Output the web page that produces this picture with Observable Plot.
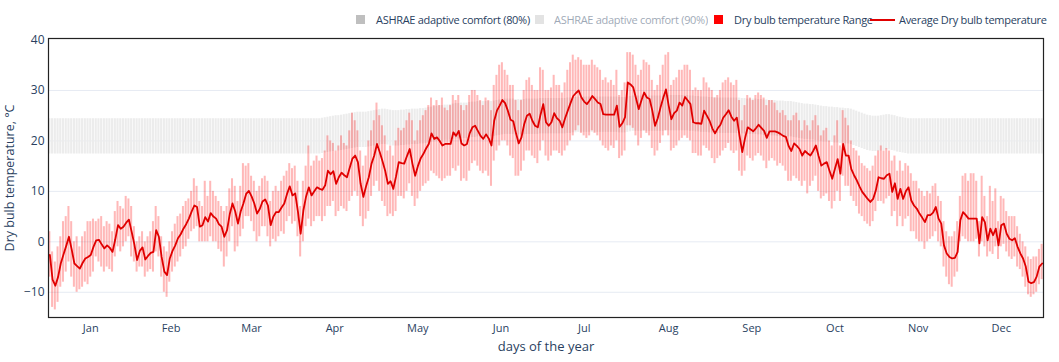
<!DOCTYPE html>
<html><head><meta charset="utf-8">
<script src="https://cdn.jsdelivr.net/npm/d3@7"></script>
<script src="https://cdn.jsdelivr.net/npm/@observablehq/plot@0.6"></script>
<style>
body{margin:0;background:#fff;font-family:"Open Sans",sans-serif;}
#legend{position:relative;height:30px;width:1059px;overflow:hidden;font-size:11px;letter-spacing:-0.3px;color:#2a3f5f;}
#legend .sq{position:absolute;top:15px;width:9px;height:9px;}
#legend .lt{position:absolute;top:12px;line-height:15px;white-space:nowrap;}
#legend .ln{position:absolute;top:19px;width:25px;height:2px;background:#e00000;}
#chart svg{display:block;}
</style></head>
<body>
<div id="legend">
<span class="sq" style="left:356px;background:#bfbfbf"></span><span class="lt" style="left:376px">ASHRAE adaptive comfort (80%)</span>
<span class="sq" style="left:535px;background:#e3e3e3"></span><span class="lt" style="left:554px;opacity:0.45">ASHRAE adaptive comfort (90%)</span>
<span class="sq" style="left:714px;background:#ff0000"></span><span class="lt" style="left:734px">Dry bulb temperature Range</span>
<span class="ln" style="left:870px"></span><span class="lt" style="left:899px">Average Dry bulb temperature</span>
</div>
<div id="chart"></div>
<script>
const monthNames = ["Jan","Feb","Mar","Apr","May","Jun","Jul","Aug","Sep","Oct","Nov","Dec"];
const monthDays = [31,28,31,30,31,30,31,31,30,31,30,31];
const yTicks = [-10,0,10,20,30,40];

const avgTemp = [
-2.6,-7.5,-8.7,-7.0,-4.3,-2.5,-0.8,1.0,-1.5,-4.3,-4.8,-5.3,-4.2,-3.3,-3.0,-2.6,-1.0,0.3,0.4,-0.5,-1.3,-0.7,-1.2,-2.0,0.5,3.3,2.6,3.0,3.8,4.4,2.0,
-0.5,-3.6,-1.8,-1.1,-3.5,-2.8,-2.2,-2.0,2.3,1.0,-3.0,-5.9,-6.6,-3.3,-1.8,-0.7,0.7,1.5,2.6,3.5,4.6,6.0,7.2,6.9,3.0,3.3,4.9,4.0,
5.7,5.0,4.6,3.5,3.0,1.0,2.3,5.5,7.6,6.0,3.6,6.0,7.6,9.5,10.1,9.0,7.6,5.6,6.5,8.0,8.4,7.2,3.3,5.0,5.9,5.9,6.8,7.6,9.5,11.0,9.2,
9.6,6.0,1.6,6.2,9.0,10.8,9.2,10.0,10.8,10.5,10.3,11.2,14.1,13.4,14.0,11.5,12.8,13.7,13.2,12.8,14.7,16.5,17.1,15.8,11.5,8.9,11.0,12.8,15.5,17.1,
19.4,17.8,16.0,14.1,11.5,12.0,10.5,13.0,15.8,15.6,15.5,17.0,18.4,15.5,13.1,15.0,16.5,17.4,18.5,19.4,21.5,20.4,20.7,20.0,19.1,19.4,19.4,19.4,21.7,21.0,22.0,
19.5,19.1,19.4,21.5,22.7,23.0,22.0,21.0,20.4,21.3,20.5,19.1,24.0,26.0,27.0,28.1,27.5,26.0,24.2,23.9,21.5,19.5,20.7,23.3,25.0,25.4,24.0,23.0,22.7,25.2,
27.3,23.7,23.0,23.7,25.5,24.5,24.0,22.7,24.5,26.0,27.5,28.9,29.5,30.0,28.6,27.8,27.3,28.0,28.9,28.3,27.6,27.3,25.3,25.2,25.2,25.2,25.2,27.0,22.8,23.5,24.7,
31.6,31.2,30.6,28.5,26.3,28.0,29.6,28.6,28.3,26.0,23.0,24.5,26.6,28.5,30.2,27.0,24.3,25.5,26.0,27.6,27.0,28.7,28.0,27.3,23.7,23.5,23.5,23.4,26.0,25.0,24.0,
22.5,21.5,22.5,23.2,24.6,25.3,26.1,24.8,24.0,24.6,21.0,17.8,20.5,22.7,22.3,21.9,22.5,23.2,22.6,22.0,20.6,21.9,21.9,21.9,21.7,21.4,21.0,20.8,19.0,18.0,
19.5,19.0,18.4,17.1,18.0,17.5,17.1,18.0,19.1,17.0,15.1,15.5,15.8,14.1,12.5,14.5,16.4,13.5,19.4,17.1,17.1,14.4,13.2,12.2,11.0,9.9,9.2,8.5,7.9,8.5,10.2,
12.8,12.6,12.5,13.2,13.5,9.9,11.6,8.5,10.5,8.5,10.0,10.8,8.2,7.2,6.6,5.6,4.8,3.9,5.3,5.3,5.8,6.9,4.6,3.6,-0.7,-2.3,-3.0,-3.3,-3.2,-2.0,
4.3,5.9,5.3,4.6,4.6,4.6,4.6,-0.3,4.9,3.9,0.3,2.6,1.3,2.6,-0.7,3.3,3.6,1.6,0.6,0.3,0.7,-1.0,-2.3,-3.3,-4.9,-7.9,-8.2,-8.0,-6.9,-4.9,-4.3
];

const rangeHi = [
2,-2,-4,-1,1,4,5,7,4,0,1,-1,1,2,4,4,4.5,4,4.5,5,3,4,3.5,2,6,8,7,6.5,9,8.5,7,
3,0,1,2,0,1,2,4,7,5,1,-1,-2,0,2,3.5,5,5.5,7,8,8.5,10,12.5,11,8,7,12,9,
12,10,9,8,7,6,7,10.5,12.5,11,8,11,15.5,15,15.5,13,12,10,11,12.5,13,12,8,10,11,10,12,13,14,15.5,14.5,
15,12,7,12,15,19,15,16,17,16,16.5,18,21,20,19.5,18,19,21,19.5,19,22,25.5,24,22,18,15,17,20,22,24,
27.5,25,23,21,18,19,17,20,22.5,22,22.5,24,25.5,24,20,22,24,25,26,27,28.5,27,28,27,28.5,26.5,26,27,29,28,29,
27,26,27,29,30,30,29,28,27,28.5,28,26,31,33,35,35.5,34,33,31,31,28,26,28,30,32,32.5,31,30,30,34.5,
34,30,30,30.5,33,31,31,29.5,31.5,34,35.5,37,36,36.5,36,35,35,35,36,35,34.5,34,32,32.5,31.5,32,31,34,29,30,31.5,
37.5,37.5,37,35,33,34,36,35.5,35,32,30,31,33,35,37,37.5,31,32,32.5,34,34,35,35,34,30,30.5,30,30,32.5,31.5,30.5,
30,28.5,29,30,31.5,32,32.5,31.5,31,32,28,24,27,29,28.5,28,29,29.5,29,28.5,27,28,28,27.5,26,25.5,26,25,24,24,
25,25.5,24,22,24,23,22,24,25,23,21,22,22.5,20,19,21,24,19,26,24.5,23,20,18.5,18,17,15.5,15,14.5,14,15,17,
18,19,18,18.5,18,16,17,14,16,14,15.5,15,13.5,12,12,10.5,10,9,10,9.5,11,11.5,9,8,4,2,1,1,2,4,
9,13,13.5,12,13.5,13.5,12,4,13,9,5,11,8,10.5,4,9,8.5,6,5,5,5,3,1.5,0,-1,-3,-3.5,-3,-3,-1.5,-0.5
];

const rangeLo = [
-7,-13,-13.5,-12,-9,-8,-6,-4,-7,-9,-10,-9.5,-9,-8,-8.5,-7,-6,-3,-4,-5,-6,-5,-5.5,-6,-3,-1,-2,-1,0,1,-3,
-4,-6,-5,-5,-7,-6,-5.5,-6,-2,-3,-7,-10,-11,-8,-6,-5,-4,-3,-1.5,-1,0.5,2,2.5,3,0,0,0,0,
1,0,0,-1.5,-2,-5,-3,0,3,-2,-1,1,2.5,5,5,4,2,0,1,3,3,1,-1,0.5,0,1,2,1.5,4,5,3.5,
4,1,-3,0,3,4.5,3,4,5,5,4,5,7,7,8,5,6,7,6.5,6,8,9,10,9,5,3,4.5,6,9,11,
12,10,8,7,5,5.5,5,6,9,9,8.5,10,11.5,9,7,8.5,10,11,11.5,12,14,13.5,13,12.5,12,12.5,13,13,14.5,14,15,
12,12.5,12,14,15.5,16,15,14,13.5,14,13,11,16,18,19,20,20,19,17,16.5,13,13,14,16,18,18,17,16.5,15.5,18,
20,17,16,17,18,18,17.5,17,18,19,20,21,22,23,21.5,21,20.5,21,22,21.5,21,20,19,18.5,18,19,18.5,20,16.5,17,18,
23,23,22.5,21,19,20.5,22,21.5,21,18.5,17,18,19.5,21,22,21,18,18.5,19,20,20.5,21,20.5,20,17.5,17.5,17,17,19,18.5,18,
16.5,15.5,16.5,17,18,18.5,19.5,18,17.5,18,14,13,14,17,16.5,16,17,17.5,17,16,14.5,16,16.5,16,15,15.5,15,14,12,12,
13,12.5,12,11,12,9.5,11,12,13,10,8.5,9,9.5,8,6.5,8,10,8,13,11,11,9,8,7,5.5,5,4,3.5,3,4,6,
8,8,7.5,8.5,9,5,6,3,5,3,4.5,5,2,2,0.5,0,0,-1.5,0,0.5,1,2,0,-1,-5,-7,-8.5,-9,-7,-6,
0,1,0.5,0,0,0,0.5,-3,0,-1,-3,-2,-2.5,-1,-3.5,-1,-0.5,-2,-3,-3.5,-3,-5,-5.5,-7,-9,-10.5,-11,-10.5,-10,-8.5,-7.5
];

const comfortHi = [
24.4,24.4,24.4,24.4,24.4,24.4,24.4,24.4,24.4,24.4,
24.4,24.4,24.4,24.4,24.4,24.4,24.4,24.4,24.4,24.4,
24.4,24.4,24.4,24.4,24.4,24.4,24.4,24.4,24.4,24.4,
24.4,24.4,24.4,24.4,24.4,24.4,24.4,24.4,24.4,24.4,
24.4,24.4,24.4,24.4,24.4,24.4,24.4,24.4,24.4,24.4,
24.4,24.4,24.4,24.4,24.4,24.4,24.4,24.4,24.4,24.4,
24.4,24.4,24.4,24.4,24.4,24.4,24.4,24.4,24.4,24.4,
24.4,24.4,24.4,24.4,24.4,24.4,24.4,24.4,24.4,24.4,
24.4,24.4,24.4,24.4,24.4,24.4,24.4,24.4,24.4,24.4,
24.4,24.4,24.4,24.4,24.4,24.4,24.4,24.4,24.4,24.4,
24.5,24.6,24.7,24.8,24.9,25.0,25.0,25.1,25.2,25.3,
25.4,25.5,25.6,25.7,25.7,25.7,25.7,25.8,25.9,26.0,
26.1,26.2,26.3,26.3,26.2,26.1,26.0,26.0,26.0,26.1,
26.1,26.2,26.2,26.3,26.3,26.3,26.4,26.4,26.5,26.6,
26.7,26.8,26.9,27.0,27.0,27.1,27.1,27.2,27.3,27.4,
27.4,27.5,27.5,27.5,27.6,27.7,27.7,27.8,27.8,27.8,
27.8,27.8,27.8,27.9,28.0,28.1,28.2,28.3,28.3,28.3,
28.3,28.2,28.2,28.2,28.2,28.3,28.3,28.3,28.3,28.3,
28.4,28.4,28.4,28.4,28.4,28.4,28.4,28.4,28.4,28.4,
28.5,28.5,28.6,28.6,28.7,28.7,28.7,28.7,28.7,28.7,
28.7,28.7,28.7,28.7,28.7,28.7,28.7,28.7,28.7,28.6,
28.6,28.6,28.7,28.8,28.9,28.9,28.9,28.9,28.9,28.9,
28.9,28.9,28.9,28.9,28.9,28.9,29.0,29.0,29.0,29.0,
29.0,29.0,29.0,29.0,29.0,28.9,28.9,28.8,28.8,28.7,
28.7,28.7,28.6,28.6,28.6,28.5,28.5,28.5,28.5,28.5,
28.5,28.5,28.5,28.5,28.4,28.4,28.3,28.3,28.3,28.3,
28.2,28.2,28.1,28.1,28.0,28.0,28.0,27.9,27.9,27.9,
27.8,27.8,27.8,27.7,27.6,27.5,27.4,27.3,27.3,27.2,
27.2,27.1,27.0,26.9,26.8,26.8,26.7,26.7,26.6,26.6,
26.5,26.5,26.4,26.4,26.3,26.1,25.9,25.7,25.5,25.3,
25.1,25.0,24.9,24.9,24.9,25.0,25.1,25.2,25.2,25.1,
25.0,24.8,24.7,24.6,24.5,24.4,24.4,24.4,24.4,24.4,
24.4,24.4,24.4,24.4,24.4,24.4,24.4,24.4,24.4,24.4,
24.4,24.4,24.4,24.4,24.4,24.4,24.4,24.4,24.4,24.4,
24.4,24.4,24.4,24.4,24.4,24.4,24.4,24.4,24.4,24.4,
24.4,24.4,24.4,24.4,24.4,24.4,24.4,24.4,24.4,24.4,
24.4,24.4,24.4,24.4,24.4
];

const comfortLo = [
17.4,17.4,17.4,17.4,17.4,17.4,17.4,17.4,17.4,17.4,
17.4,17.4,17.4,17.4,17.4,17.4,17.4,17.4,17.4,17.4,
17.4,17.4,17.4,17.4,17.4,17.4,17.4,17.4,17.4,17.4,
17.4,17.4,17.4,17.4,17.4,17.4,17.4,17.4,17.4,17.4,
17.4,17.4,17.4,17.4,17.4,17.4,17.4,17.4,17.4,17.4,
17.4,17.4,17.4,17.4,17.4,17.4,17.4,17.4,17.4,17.4,
17.4,17.4,17.4,17.4,17.4,17.4,17.4,17.4,17.4,17.4,
17.4,17.4,17.4,17.4,17.4,17.4,17.4,17.4,17.4,17.4,
17.4,17.4,17.4,17.4,17.4,17.4,17.4,17.4,17.4,17.4,
17.4,17.4,17.4,17.4,17.4,17.4,17.4,17.4,17.4,17.4,
17.5,17.6,17.7,17.8,17.9,18.0,18.0,18.1,18.2,18.3,
18.4,18.5,18.6,18.7,18.7,18.7,18.7,18.8,18.9,19.0,
19.1,19.2,19.3,19.3,19.2,19.1,19.0,19.0,19.0,19.1,
19.1,19.2,19.2,19.3,19.3,19.3,19.4,19.4,19.5,19.6,
19.7,19.8,19.9,20.0,20.0,20.1,20.1,20.2,20.3,20.4,
20.4,20.5,20.5,20.5,20.6,20.7,20.7,20.8,20.8,20.8,
20.8,20.8,20.8,20.9,21.0,21.1,21.2,21.3,21.3,21.3,
21.3,21.2,21.2,21.2,21.2,21.3,21.3,21.3,21.3,21.3,
21.4,21.4,21.4,21.4,21.4,21.4,21.4,21.4,21.4,21.4,
21.5,21.5,21.6,21.6,21.7,21.7,21.7,21.7,21.7,21.7,
21.7,21.7,21.7,21.7,21.7,21.7,21.7,21.7,21.7,21.6,
21.6,21.6,21.7,21.8,21.9,21.9,21.9,21.9,21.9,21.9,
21.9,21.9,21.9,21.9,21.9,21.9,22.0,22.0,22.0,22.0,
22.0,22.0,22.0,22.0,22.0,21.9,21.9,21.8,21.8,21.7,
21.7,21.7,21.6,21.6,21.6,21.5,21.5,21.5,21.5,21.5,
21.5,21.5,21.5,21.5,21.4,21.4,21.3,21.3,21.3,21.3,
21.2,21.2,21.1,21.1,21.0,21.0,21.0,20.9,20.9,20.9,
20.8,20.8,20.8,20.7,20.6,20.5,20.4,20.3,20.3,20.2,
20.2,20.1,20.0,19.9,19.8,19.8,19.7,19.7,19.6,19.6,
19.5,19.5,19.4,19.4,19.3,19.1,18.9,18.7,18.5,18.3,
18.1,18.0,17.9,17.9,17.9,18.0,18.1,18.2,18.2,18.1,
18.0,17.8,17.7,17.6,17.5,17.4,17.4,17.4,17.4,17.4,
17.4,17.4,17.4,17.4,17.4,17.4,17.4,17.4,17.4,17.4,
17.4,17.4,17.4,17.4,17.4,17.4,17.4,17.4,17.4,17.4,
17.4,17.4,17.4,17.4,17.4,17.4,17.4,17.4,17.4,17.4,
17.4,17.4,17.4,17.4,17.4,17.4,17.4,17.4,17.4,17.4,
17.4,17.4,17.4,17.4,17.4
];

const data = avgTemp.map((v, i) => ({
  day: i + 1, avg: v, lo: rangeLo[i], hi: rangeHi[i], clo: comfortLo[i], chi: comfortHi[i]
}));

// month label positions: middle of each month
const monthMid = [];
let acc = 0.5;
for (const n of monthDays) { monthMid.push(acc + n / 2); acc += n; }

const font = '"Open Sans", "DejaVu Sans", sans-serif';
const chart = Plot.plot({
  width: 1059, height: 332,
  marginLeft: 48, marginRight: 16, marginTop: 8, marginBottom: 45,
  style: {fontFamily: font, fontSize: "11px", color: "#2a3f5f", background: "#fff"},
  x: {domain: [0.5, 365.5]},
  y: {domain: [-15, 40.3]},
  marks: [
    Plot.gridY([-10, 0, 10, 20, 30], {stroke: "#e6ebf3", strokeOpacity: 1}),
    Plot.rect(data, {x1: d => d.day - 0.5, x2: d => d.day + 0.5, y1: "clo", y2: "chi",
      fill: "#ececec", insetLeft: 0.3, insetRight: 0.3}),
    Plot.rect(data, {x1: d => d.day - 0.5, x2: d => d.day + 0.5, y1: "lo", y2: "hi",
      fill: "#ff0000", fillOpacity: 0.28, insetLeft: 0.35, insetRight: 0.35}),
    Plot.line(data, {x: "day", y: "avg", stroke: "#e00000", strokeWidth: 1.8}),
    Plot.axisY(yTicks, {tickSize: 0, tickPadding: 4, label: null, fontSize: 12}),
    Plot.axisX(monthMid, {tickSize: 0, tickPadding: 7, label: null, fontSize: 11,
      tickFormat: d => monthNames[monthMid.indexOf(d)]}),
    Plot.text(["Dry bulb temperature, °C"], {frameAnchor: "left", textAnchor: "middle", rotate: -90, dx: -39,
      fontSize: 12.5, fill: "#2a3f5f"}),
    Plot.text(["days of the year"], {frameAnchor: "bottom", dy: 33, fontSize: 13, fill: "#2a3f5f"}),
    Plot.frame({stroke: "#222", strokeWidth: 1.2})
  ]
});
document.getElementById("chart").appendChild(chart);
</script>
</body></html>
